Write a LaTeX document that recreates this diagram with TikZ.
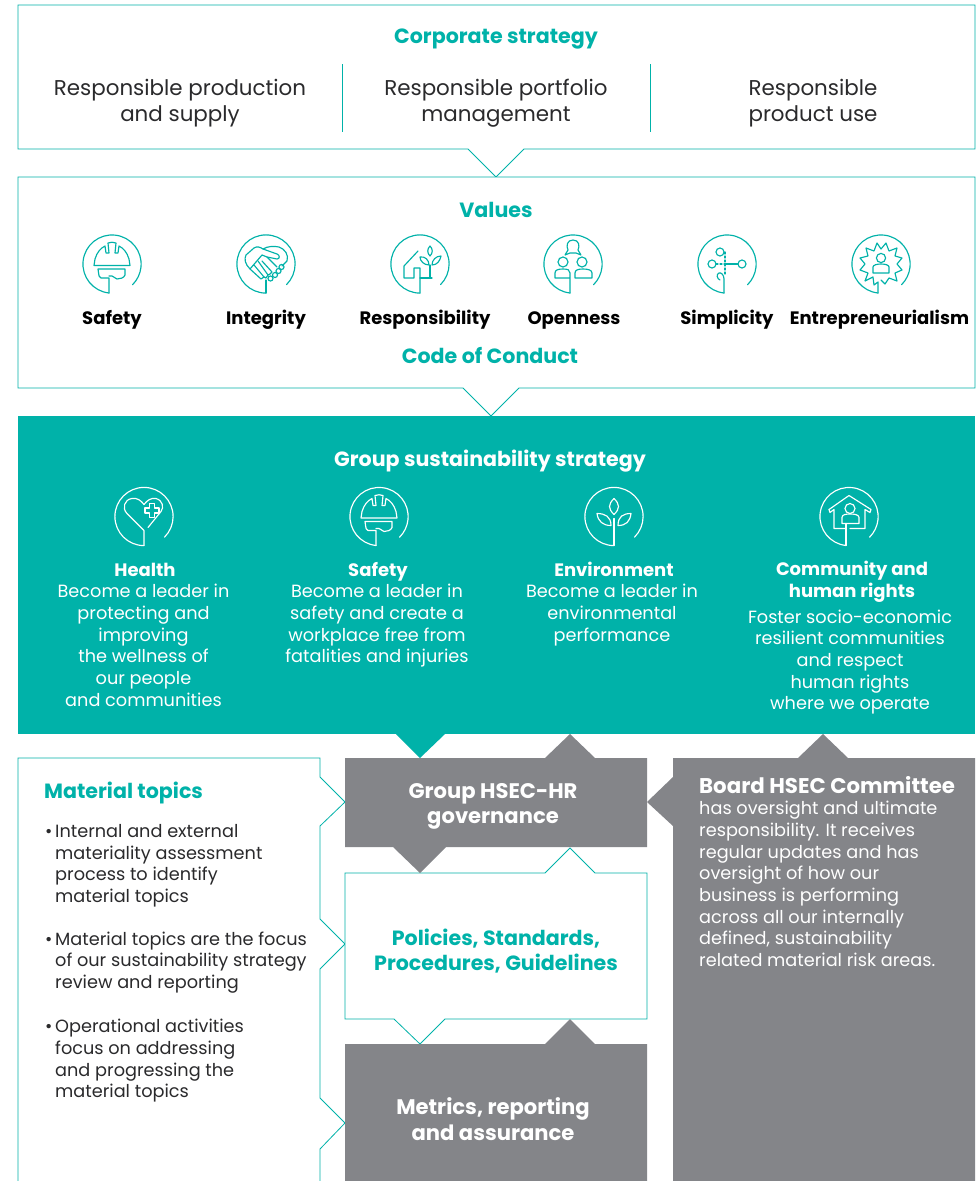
\documentclass[tikz,border=0pt]{standalone}
\usepackage{fontspec}
\setmainfont{Poppins}
\definecolor{teal1}{HTML}{00B2A9}
\definecolor{grey1}{HTML}{848589}
\definecolor{ink}{HTML}{2A2A2C}
\newcommand\fA{\fontsize{21.4}{26}\selectfont}
\newcommand\fB{\fontsize{17.7}{21.7}\selectfont}
\newcommand\fH{\fontsize{20.6}{25.5}\selectfont\bfseries}
\newcommand\fW{\fontsize{21.1}{25.5}\selectfont\bfseries}
\newcommand\fL{\fontsize{18}{21.7}\selectfont\bfseries}
\tikzset{
  x=1pt,y=-1pt,
  outlinebox/.style={draw=teal1,line width=0.8pt,fill=white,line join=miter},
  head/.style={text=teal1,font=\fH,align=center,inner sep=0pt},
  bodyc/.style={text=ink,font=\fA,align=center,inner sep=0pt},
  label/.style={text=black,font=\fL,align=center,inner sep=0pt,text height=13pt,text depth=4pt},
  gtext/.style={text=white,font=\fB,align=center,inner sep=0pt},
  gbold/.style={text=white,font=\fL,align=center,inner sep=0pt},
  wbold/.style={text=white,font=\fW,align=center,inner sep=0pt},
  lefttext/.style={text=ink,font=\fB,align=left,anchor=north west,inner sep=0pt},
  icon/.style={line width=1.15pt,line cap=round,line join=round},
}
\newcommand\ring{\draw (-3,29) arc[start angle=96,end angle=405,radius=29.1];}
\newcommand\ringz{\draw (0,29.1) arc[start angle=90,end angle=405,radius=29.1];}
\newcommand\helmet{%
  \draw (-18,1.5) -- (18,1.5) -- (17,-5) .. controls (15,-12) and (11,-16) .. (7,-18) -- (6,-11) -- (3,-11) -- (4,-21) .. controls (1,-22) and (-1,-22) .. (-4,-21) -- (-3,-11) -- (-6,-11) -- (-7,-18) .. controls (-11,-16) and (-15,-12) .. (-17,-5) -- cycle;
  \draw (-3,29) -- (-3,14) -- (-11,14) .. controls (-13,14) and (-13,12) .. (-14,5) -- (13,5) -- (13,11) .. controls (12,14) and (8,15) .. (5,15) .. controls (2,15) and (3,12) .. (0,12) -- (-3,12);
}
\newcommand\iconat[3]{\begin{scope}[shift={(#1)},icon,draw=#2]#3\end{scope}}
\begin{document}
\begin{tikzpicture}
\useasboundingbox (0,0) rectangle (980,1181);
\fill[white] (0,0) rectangle (980,1181);

% Corporate strategy box
\draw[outlinebox] (18,5) -- (975,5) -- (975,149) -- (524,149) -- (496,177) -- (468,149) -- (18,149) -- cycle;
\draw[draw=teal1,line width=0.8pt] (342.5,64) -- (342.5,132);
\draw[draw=teal1,line width=0.8pt] (650.5,64) -- (650.5,132);
\node[head] (corp) at (496,39.5) {Corporate strategy};
\node[bodyc] (c1) at (180,103.5) {Responsible production\\and supply};
\node[bodyc] (c2) at (496,103.5) {Responsible portfolio\\management};
\node[bodyc] (c3) at (813,103.5) {Responsible\\product use};

% Values box
\draw[outlinebox] (18,177) -- (975,177) -- (975,388) -- (519,388) -- (491,416) -- (463,388) -- (18,388) -- cycle;
\node[head] (val) at (496,210) {Values};
\node[label] (v1) at (112,320) {Safety};
\node[label] (v2) at (266,320) {Integrity};
\node[label] (v3) at (425,320) {Responsibility};
\node[label] (v4) at (574,320) {Openness};
\node[label] (v5) at (727,320) {Simplicity};
\node[label] (v6) at (879.5,320) {Entrepreneurialism};
\node[head] (coc) at (490,356) {Code of Conduct};

\iconat{112,264}{teal1}{\ring\helmet}
% handshake
\iconat{266,264}{teal1}{\ringz
  \draw (0,29) -- (0,16);
  \draw (-16,5) .. controls (-21,0) and (-22,-5) .. (-20,-9) -- (-12,-16) .. controls (-9,-18) and (-6,-17) .. (-3,-15) -- (11,-10) .. controls (14,-9) and (14,-5) .. (11,-5) -- (1,-7) -- (-4,-9) -- (-16,5) -- (-5,15) -- (-2,13) -- (-12,1);
  \draw (-2,13) -- (0,14) -- (2,11) -- (-8,-3);
  \draw (2,11) -- (4,10) -- (6,8) -- (-4,-3);
  \draw (-3,-15) .. controls (2,-18) and (8,-18) .. (13,-17) .. controls (19,-15) and (23,-9) .. (21,-3) -- (16,2);
  \draw (1,-7) -- (11,3);
  \draw (4.5,14.5) circle (2.5);
  \draw (9,11) circle (2.5);
  \draw (12.5,7) circle (2.5);
  \draw (15.5,3) circle (2.5);
}
% house and plant
\iconat{420,264}{teal1}{\ringz
  \draw (0,29) -- (0,4) -- (-6,4) -- (-6,14) -- (-16,14) -- (-16,2) -- (-2,-13);
  \draw (0,14) -- (12,14);
  \draw (10,14) -- (10,1);
  \draw (10,-8) .. controls (7,-11) and (7,-15) .. (10,-18) .. controls (13,-15) and (13,-11) .. (10,-8) -- cycle;
  \draw (9,1) .. controls (4,1) and (0,-3) .. (0,-7) .. controls (5,-8) and (9,-4) .. (9,1) -- cycle;
  \draw (12,1) .. controls (17,1) and (20,-3) .. (21,-8) .. controls (16,-8) and (12,-4) .. (12,1) -- cycle;
}
% people
\iconat{573,264}{teal1}{\ring
  \draw (0,-24) .. controls (-6,-24) and (-7,-18) .. (-5,-14) -- (-8,-9) -- (-3,-11) -- (3,-11) -- (8,-9) -- (5,-14) .. controls (7,-18) and (6,-24) .. (0,-24) -- cycle;
  \draw (-10,-2) circle (5);
  \draw (9,-2) circle (5);
  \draw (-3,29) -- (-3,14) -- (-18,14) -- (-18,9) .. controls (-18,6) and (-15,5) .. (-10,5) .. controls (-5,5) and (-3,6) .. (-3,9) -- (-3,14);
  \draw (2,14) -- (2,9) .. controls (2,6) and (5,5) .. (10,5) .. controls (15,5) and (19,6) .. (19,9) -- (19,14) -- cycle;
}
% simplicity
\iconat{727,264}{teal1}{\ring
  \draw (-7,-12) circle (4);
  \draw (-15,0) circle (4);
  \draw (15,0) circle (4);
  \draw (-1,0) -- (11,0);
  \draw[dash pattern=on 2pt off 2pt] (-11,0) -- (-1,0);
  \draw[dash pattern=on 2pt off 2pt] (-2,-12) -- (-2,10);
  \draw (-3,29) -- (-3,15) .. controls (-3,11) and (-6,8) .. (-8,9) .. controls (-11,10) and (-10,15) .. (-7,16);
}
% entrepreneurialism star
\iconat{881,264}{teal1}{\ring
  \draw (-3,29) -- (-3,18) -- (-7,21) -- (-8,13) -- (-16,17) -- (-13,9) -- (-21,6) -- (-16,0) -- (-21,-6) -- (-13,-8) -- (-15,-16) -- (-7,-13) -- (-4,-21) -- (0,-15) -- (5,-21) -- (8,-13) -- (16,-16) -- (14,-8) -- (21,-6) -- (16,0) -- (21,6) -- (14,9) -- (16,17) -- (8,14) -- (4,20) -- (0,16);
  \draw (0,-6) circle (4.6);
  \draw (-8,9) -- (-8,3) .. controls (-8,1) and (-4,0) .. (0,0) .. controls (4,0) and (8,1) .. (8,3) -- (8,9) -- cycle;
}

% Group sustainability strategy
\fill[teal1] (18,416) rectangle (975,734);
\node[wbold,font=\fH] (gs) at (490,461) {Group sustainability strategy};
\node[label,text=white] (h1) at (145,572) {Health};
\node[gtext,anchor=north] (h2) at (143.5,584) {Become a leader in\\protecting and\\improving\\the wellness of\\our people\\and communities};
\node[label,text=white] (s1) at (378,572) {Safety};
\node[gtext,anchor=north] (s2) at (377,584) {Become a leader in\\safety and create a\\workplace free from\\fatalities and injuries};
\node[label,text=white] (e1) at (614,572) {Environment};
\node[gtext,anchor=north] (e2) at (612,584) {Become a leader in\\environmental\\performance};
\node[gbold] (m1) at (852,582) {Community and\\human rights};
\node[gtext,anchor=north] (m2) at (850,609.5) {Foster socio-economic\\resilient communities\\and respect\\human rights\\where we operate};

\iconat{144,516.5}{white}{\ringz
  \draw (0,29) -- (0,14) -- (-17,-3) .. controls (-22,-8) and (-20,-17) .. (-12,-18) .. controls (-7,-19) and (-3,-16) .. (0,-12) .. controls (3,-16) and (7,-19) .. (12,-18) .. controls (19,-16) and (20,-9) .. (17,-5) -- (4,11);
  \draw (5.5,-13) -- (10.5,-13) -- (10.5,-8.5) -- (15,-8.5) -- (15,-3.5) -- (10.5,-3.5) -- (10.5,1) -- (5.5,1) -- (5.5,-3.5) -- (1,-3.5) -- (1,-8.5) -- (5.5,-8.5) -- cycle;
}
\iconat{379,516.5}{white}{\ring\helmet}
\iconat{614,516.5}{white}{\ringz
  \draw (0,29) -- (0,2);
  \draw (0,-2) .. controls (-6,-8) and (-6,-12) .. (0,-18) .. controls (6,-12) and (6,-8) .. (0,-2) -- cycle;
  \draw (-3,9) .. controls (-11,9) and (-16,5) .. (-17,-3) .. controls (-9,-3) and (-3,0) .. (-3,9) -- cycle;
  \draw (4,9) .. controls (4,0) and (9,-3) .. (17,-3) .. controls (16,5) and (12,9) .. (4,9) -- cycle;
}
\iconat{849,516.5}{white}{\ring
  \draw (-20,-7) -- (0,-21) -- (22,-7) -- (21,-4) -- (16,-7) -- (16,12) -- (1,12);
  \draw (-20,-7) -- (-19,-4) -- (-15,-7) -- (-15,12) -- (-3,12);
  \draw (-3,29) -- (-3,7);
  \draw (1,-8) circle (5);
  \draw (-7,7) -- (-7,1) .. controls (-7,-2) and (-3,-2.5) .. (1,-2.5) .. controls (5,-2.5) and (10,-2) .. (10,1) -- (10,7) -- cycle;
}

% Material topics outline
\draw[outlinebox,fill=none] (18,1181) -- (18,758) -- (320,758) -- (320,777) -- (345,802) -- (320,826) -- (320,919) -- (345,944) -- (320,969) -- (320,1098) -- (345,1123) -- (320,1149) -- (320,1181);
\node[head,anchor=west] (mt) at (44,793) {Material topics};
\node[lefttext] (b1) at (45,829.5) {•};
\node[lefttext] (t1) at (55,824) {Internal and external\\materiality assessment\\process to identify\\material topics};
\node[lefttext] (b2) at (45,937) {•};
\node[lefttext] (t2) at (55,931.5) {Material topics are the focus\\of our sustainability strategy\\review and reporting};
\node[lefttext] (b3) at (45,1024.5) {•};
\node[lefttext] (t3) at (55,1019) {Operational activities\\focus on addressing\\and progressing the\\material topics};

% Policies box
\draw[outlinebox] (345,873) -- (545,873) -- (570,848) -- (595,873) -- (647,873) -- (647,1019) -- (445,1019) -- (420,1044) -- (394,1019) -- (345,1019) -- cycle;
\node[head] (pol) at (496,951) {Policies, Standards,\\Procedures, Guidelines};

% Teal arrow from strategy
\fill[teal1] (396,734) -- (445,734) -- (420,758) -- cycle;

% Group HSEC-HR
\fill[grey1] (345,758) -- (545,758) -- (570,734) -- (595,758) -- (647,758) -- (647,847) -- (446,847) -- (420,873) -- (393,847) -- (345,847) -- cycle;
\node[wbold] (g) at (493,806.5) {Group HSEC-HR\\governance};

% Metrics
\fill[grey1] (345,1044) -- (545,1044) -- (570,1019) -- (595,1044) -- (647,1044) -- (647,1181) -- (345,1181) -- cycle;
\node[wbold] (met) at (493,1119) {Metrics, reporting\\and assurance};

% Board
\fill[grey1] (673,758) -- (798,758) -- (823,734) -- (848,758) -- (975,758) -- (975,1181) -- (673,1181) -- (673,826) -- (647,802) -- (673,777) -- cycle;
\node[wbold,anchor=west,font=\fontsize{21.3}{25.5}\selectfont\bfseries] (bd) at (699,785) {Board HSEC Committee};
\node[gtext,align=left,anchor=north west] (bt) at (699,801) {has oversight and ultimate\\responsibility. It receives\\regular updates and has\\oversight of how our\\business is performing\\across all our internally\\defined, sustainability\\related material risk areas.};
\end{tikzpicture}
\end{document}
